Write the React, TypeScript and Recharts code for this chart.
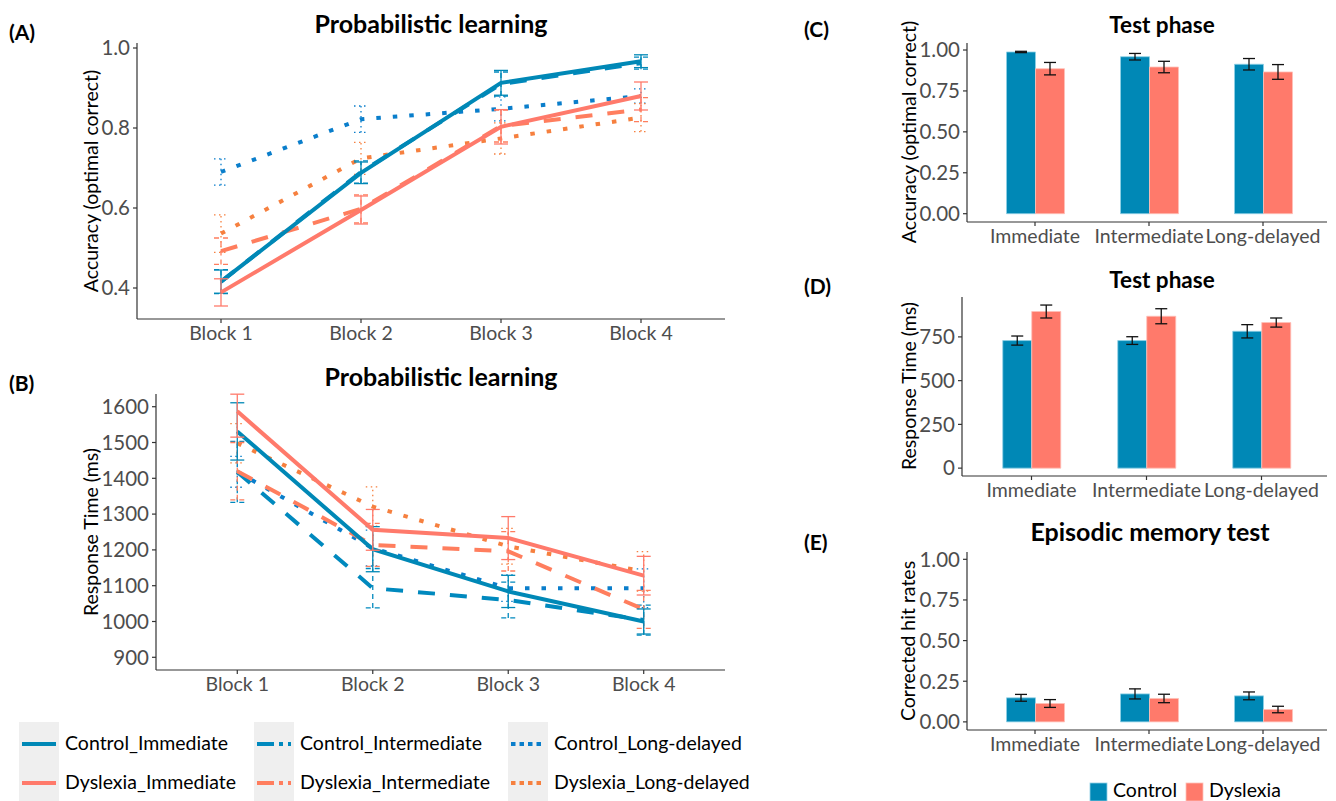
import React from 'react';
import { LineChart, Line, XAxis, YAxis, ErrorBar, BarChart, Bar } from 'recharts';

// ---------- data ----------
const blocks = [1, 2, 3, 4];
const blockLabels = ['Block 1', 'Block 2', 'Block 3', 'Block 4'];

// Panel A: accuracy (optimal correct)
const accCtrlImm = [0.416, 0.688, 0.913, 0.967];
const accCtrlImmErr = [0.029, 0.027, 0.031, 0.016];
const accCtrlInt = [0.416, 0.690, 0.910, 0.962];
const accCtrlIntErr = [0.030, 0.028, 0.030, 0.015];
const accCtrlLong = [0.690, 0.822, 0.848, 0.880];
const accCtrlLongErr = [0.033, 0.033, 0.030, 0.018];
const accDysImm = [0.389, 0.595, 0.803, 0.880];
const accDysImmErr = [0.034, 0.035, 0.043, 0.035];
const accDysInt = [0.492, 0.598, 0.805, 0.846];
const accDysIntErr = [0.033, 0.035, 0.040, 0.030];
const accDysLong = [0.536, 0.724, 0.774, 0.826];
const accDysLongErr = [0.047, 0.040, 0.039, 0.035];

// Panel B: response time (ms); [below, above] errors where the bar is cut by the panel
const rtCtrlImm = [1531, 1202, 1084, 1000];
const rtCtrlImmErr = [80, 63, 45, 35];
const rtCtrlInt = [1418, 1093, 1060, 1004];
const rtCtrlIntErr = [85, 55, 50, 42];
const rtCtrlLong = [1418, 1205, 1093, 1093];
const rtCtrlLongErr = [43, 50, 37, 54];
const rtDysImm = [1587, 1256, 1233, 1128];
const rtDysImmErr: (number | number[])[] = [[72, 48], 57, 60, 54];
const rtDysInt = [1420, 1214, 1196, 1034];
const rtDysIntErr = [80, 60, 55, 53];
const rtDysLong = [1498, 1321, 1210, 1140];
const rtDysLongErr = [55, 55, 50, 55];

// Panels C-E: test phases
const phases = ['Immediate', 'Intermediate', 'Long-delayed'];
const testAccCtrl = [0.988, 0.959, 0.913];
const testAccCtrlErr = [0.004, 0.020, 0.035];
const testAccDys = [0.886, 0.896, 0.866];
const testAccDysErr = [0.038, 0.035, 0.045];

const testRtCtrl = [729, 729, 782];
const testRtCtrlErr = [26, 22, 38];
const testRtDys = [895, 868, 832];
const testRtDysErr = [37, 43, 26];

const hitCtrl = [0.148, 0.172, 0.160];
const hitCtrlErr = [0.021, 0.031, 0.024];
const hitDys = [0.113, 0.144, 0.076];
const hitDysErr = [0.024, 0.026, 0.020];

const accTicks = [0.4, 0.6, 0.8, 1.0];
const rtTicks = [900, 1000, 1100, 1200, 1300, 1400, 1500, 1600];
const propTicks = [0, 0.25, 0.5, 0.75, 1.0];
const testRtTicks = [0, 250, 500, 750];

// ---------- styles ----------
const FONT = "Lato, 'Open Sans', sans-serif";
const BLUE = '#0088B6';
const SALMON = '#FF7A6B';
const AXIS = '#333333';
const TICKTXT = '#4D4D4D';

const seriesStyles = [
  { key: 'CL', name: 'Control_Long-delayed', color: '#0A7ECB', dash: '4.5 12', err: '1.5 3.5' },
  { key: 'DL', name: 'Dyslexia_Long-delayed', color: '#F6803F', dash: '4.5 12', err: '1.5 3.5' },
  { key: 'CInt', name: 'Control_Intermediate', color: '#0089BE', dash: '17 15', err: '5 4' },
  { key: 'DInt', name: 'Dyslexia_Intermediate', color: '#FF7E5E', dash: '17 15', err: '5 4' },
  { key: 'CI', name: 'Control_Immediate', color: BLUE, dash: undefined, err: undefined },
  { key: 'DI', name: 'Dyslexia_Immediate', color: SALMON, dash: undefined, err: undefined },
];

const accRows = blocks.map((b, i) => ({
  block: b,
  CI: accCtrlImm[i], CI_e: accCtrlImmErr[i],
  CInt: accCtrlInt[i], CInt_e: accCtrlIntErr[i],
  CL: accCtrlLong[i], CL_e: accCtrlLongErr[i],
  DI: accDysImm[i], DI_e: accDysImmErr[i],
  DInt: accDysInt[i], DInt_e: accDysIntErr[i],
  DL: accDysLong[i], DL_e: accDysLongErr[i],
}));

const rtRows = blocks.map((b, i) => ({
  block: b,
  CI: rtCtrlImm[i], CI_e: rtCtrlImmErr[i],
  CInt: rtCtrlInt[i], CInt_e: rtCtrlIntErr[i],
  CL: rtCtrlLong[i], CL_e: rtCtrlLongErr[i],
  DI: rtDysImm[i], DI_e: rtDysImmErr[i],
  DInt: rtDysInt[i], DInt_e: rtDysIntErr[i],
  DL: rtDysLong[i], DL_e: rtDysLongErr[i],
}));

const mkBarRows = (c: number[], ce: number[], d: number[], de: number[]) =>
  phases.map((p, i) => ({ phase: p, ctrl: c[i], ctrl_e: ce[i], dys: d[i], dys_e: de[i] }));

const testAccRows = mkBarRows(testAccCtrl, testAccCtrlErr, testAccDys, testAccDysErr);
const testRtRows = mkBarRows(testRtCtrl, testRtCtrlErr, testRtDys, testRtDysErr);
const hitRows = mkBarRows(hitCtrl, hitCtrlErr, hitDys, hitDysErr);

const yTickStyle = { fill: TICKTXT, fontSize: 20.5, fontFamily: FONT };
const xTickStyle = { fill: TICKTXT, fontSize: 19.5, fontFamily: FONT };
const axisLine = { stroke: AXIS, strokeWidth: 1.2 };

function LinePanel(props: {
  rows: any[]; top: number; height: number; yWidth: number; right: number;
  yDomain: number[]; yTicks: number[]; yFmt: (v: number) => string;
}) {
  const { rows, top, height, yWidth, right, yDomain, yTicks, yFmt } = props;
  return (
    <div style={{ position: 'absolute', left: 0, top }}>
      <LineChart width={740} height={height} data={rows}
        margin={{ top: 43, right, bottom: 0, left: 0 }}>
        <XAxis dataKey="block" type="number" domain={[0.4, 4.6]} ticks={blocks}
          allowDataOverflow interval={0}
          tickFormatter={(v: number) => blockLabels[v - 1]}
          tick={xTickStyle} tickSize={4} tickMargin={3} height={26}
          axisLine={axisLine} tickLine={axisLine} />
        <YAxis type="number" domain={yDomain} ticks={yTicks} allowDataOverflow interval={0}
          tickFormatter={yFmt} tick={yTickStyle} tickSize={4} tickMargin={3} width={yWidth}
          axisLine={axisLine} tickLine={axisLine} />
        {seriesStyles.map((s) => (
          <Line key={s.key} dataKey={s.key} name={s.name} type="linear" stroke={s.color}
            strokeWidth={4} strokeDasharray={s.dash} strokeLinecap="butt" dot={false}
            activeDot={false} isAnimationActive={false}>
            <ErrorBar dataKey={s.key + '_e'} width={7} stroke={s.color} strokeWidth={1.3}
              strokeDasharray={s.err} direction="y" />
          </Line>
        ))}
      </LineChart>
    </div>
  );
}

function BarPanel(props: {
  rows: any[]; top: number; yWidth: number; plotBottom: number; padL: number; padR: number;
  yDomain: number[]; yTicks: number[]; yFmt: (v: number) => string;
}) {
  const { rows, top, yWidth, plotBottom, padL, padR, yDomain, yTicks, yFmt } = props;
  const height = plotBottom - top + 26;
  return (
    <div style={{ position: 'absolute', left: 880, top }}>
      <BarChart width={456} height={height} data={rows}
        margin={{ top: 43, right: 9, bottom: 0, left: 0 }}
        barCategoryGap="25%" barGap={0}>
        <XAxis dataKey="phase" interval={0} padding={{ left: padL, right: padR }}
          tick={xTickStyle} tickSize={4} tickMargin={3} height={26}
          axisLine={axisLine} tickLine={axisLine} />
        <YAxis type="number" domain={yDomain} ticks={yTicks} allowDataOverflow interval={0}
          tickFormatter={yFmt} tick={yTickStyle} tickSize={4} tickMargin={3} width={yWidth}
          axisLine={axisLine} tickLine={axisLine} />
        <Bar dataKey="ctrl" name="Control" fill={BLUE} stroke="#8fd0e6" strokeWidth={0.8}
          isAnimationActive={false}>
          <ErrorBar dataKey="ctrl_e" width={6} stroke="#111" strokeWidth={1.3} direction="y" />
        </Bar>
        <Bar dataKey="dys" name="Dyslexia" fill={SALMON} stroke="#ffc0b8" strokeWidth={0.8}
          isAnimationActive={false}>
          <ErrorBar dataKey="dys_e" width={6} stroke="#111" strokeWidth={1.3} direction="y" />
        </Bar>
      </BarChart>
    </div>
  );
}

function VLabel({ x, y, text }: { x: number; y: number; text: string }) {
  return (
    <text transform={`translate(${x},${y}) rotate(-90)`} textAnchor="middle"
      dominantBaseline="central" fontSize={19.5} fontFamily={FONT} fill="#000">{text}</text>
  );
}

function Title({ x, y, text, size }: { x: number; y: number; text: string; size: number }) {
  return (
    <text x={x} y={y} textAnchor="middle" fontSize={size} fontWeight={700}
      fontFamily={FONT} fill="#000">{text}</text>
  );
}

function Tag({ x, y, text }: { x: number; y: number; text: string }) {
  return (
    <text x={x} y={y} fontSize={21} fontWeight={700} fontFamily={FONT} fill="#000">{text}</text>
  );
}

const legendCols = [
  { x: 19, items: ['CI', 'DI'] },
  { x: 254, items: ['CInt', 'DInt'] },
  { x: 508, items: ['CL', 'DL'] },
];
const legendRowsY = [744, 783];

export default function App() {
  const styleOf = (k: string) => seriesStyles.find((s) => s.key === k)!;
  return (
    <div style={{ position: 'absolute', left: 0, top: 0, width: 1336, height: 801, background: '#fff', overflow: 'hidden' }}>
      <LinePanel rows={accRows} top={0} height={345} yWidth={137} right={15}
        yDomain={[0.3225, 1.0125]} yTicks={accTicks} yFmt={(v) => v.toFixed(1)} />
      <LinePanel rows={rtRows} top={351} height={345} yWidth={156} right={15}
        yDomain={[864.5, 1635.5]} yTicks={rtTicks} yFmt={(v) => String(v)} />
      <BarPanel rows={testAccRows} top={0} yWidth={87} plotBottom={222} padL={11} padR={7}
        yDomain={[-0.0507, 1.0428]} yTicks={propTicks} yFmt={(v) => v.toFixed(2)} />
      <BarPanel rows={testRtRows} top={254} yWidth={82} plotBottom={476} padL={12} padR={8}
        yDomain={[-45, 978]} yTicks={testRtTicks} yFmt={(v) => String(v)} />
      <BarPanel rows={hitRows} top={509} yWidth={87} plotBottom={730} padL={11} padR={7}
        yDomain={[-0.05, 1.045]} yTicks={propTicks} yFmt={(v) => v.toFixed(2)} />

      <svg width={1336} height={801} style={{ position: 'absolute', left: 0, top: 0, pointerEvents: 'none' }}>
        <Tag x={9} y={40} text="(A)" />
        <Tag x={9} y={391} text="(B)" />
        <Tag x={804} y={37} text="(C)" />
        <Tag x={804} y={294} text="(D)" />
        <Tag x={804} y={550} text="(E)" />

        <Title x={431} y={33} size={25} text="Probabilistic learning" />
        <Title x={441} y={386} size={25} text="Probabilistic learning" />
        <Title x={1162} y={33} size={22.5} text="Test phase" />
        <Title x={1162} y={288} size={22.5} text="Test phase" />
        <Title x={1150} y={541} size={25} text="Episodic memory test" />

        <VLabel x={90} y={181} text="Accuracy (optimal correct)" />
        <VLabel x={90} y={532} text="Response Time (ms)" />
        <VLabel x={908} y={132} text="Accuracy (optimal correct)" />
        <VLabel x={908} y={386} text="Response Time (ms)" />
        <VLabel x={907} y={641} text="Corrected hit rates" />

        {legendCols.map((col) => (
          <g key={col.x}>
            <rect x={col.x} y={722} width={40} height={79} fill="#EFEFEF" />
            {col.items.map((k, r) => {
              const s = styleOf(k);
              const y = legendRowsY[r];
              return (
                <g key={k}>
                  <line x1={col.x + 3} x2={col.x + 37} y1={y} y2={y} stroke={s.color}
                    strokeWidth={4} strokeDasharray={s.dash ? (s.key.endsWith('nt') ? '17 5 4 5' : '4.5 4') : undefined} />
                  <text x={col.x + 46} y={y + 6} fontSize={19.5} fontFamily={FONT} fill="#000">{s.name}</text>
                </g>
              );
            })}
          </g>
        ))}

        <rect x={1090} y={783} width={17} height={18} fill={BLUE} stroke="#8fd0e6" strokeWidth={0.8} />
        <text x={1113} y={797} fontSize={19.5} fontFamily={FONT} fill="#000">Control</text>
        <rect x={1186} y={783} width={17} height={18} fill={SALMON} stroke="#ffc0b8" strokeWidth={0.8} />
        <text x={1209} y={797} fontSize={19.5} fontFamily={FONT} fill="#000">Dyslexia</text>
      </svg>
    </div>
  );
}
